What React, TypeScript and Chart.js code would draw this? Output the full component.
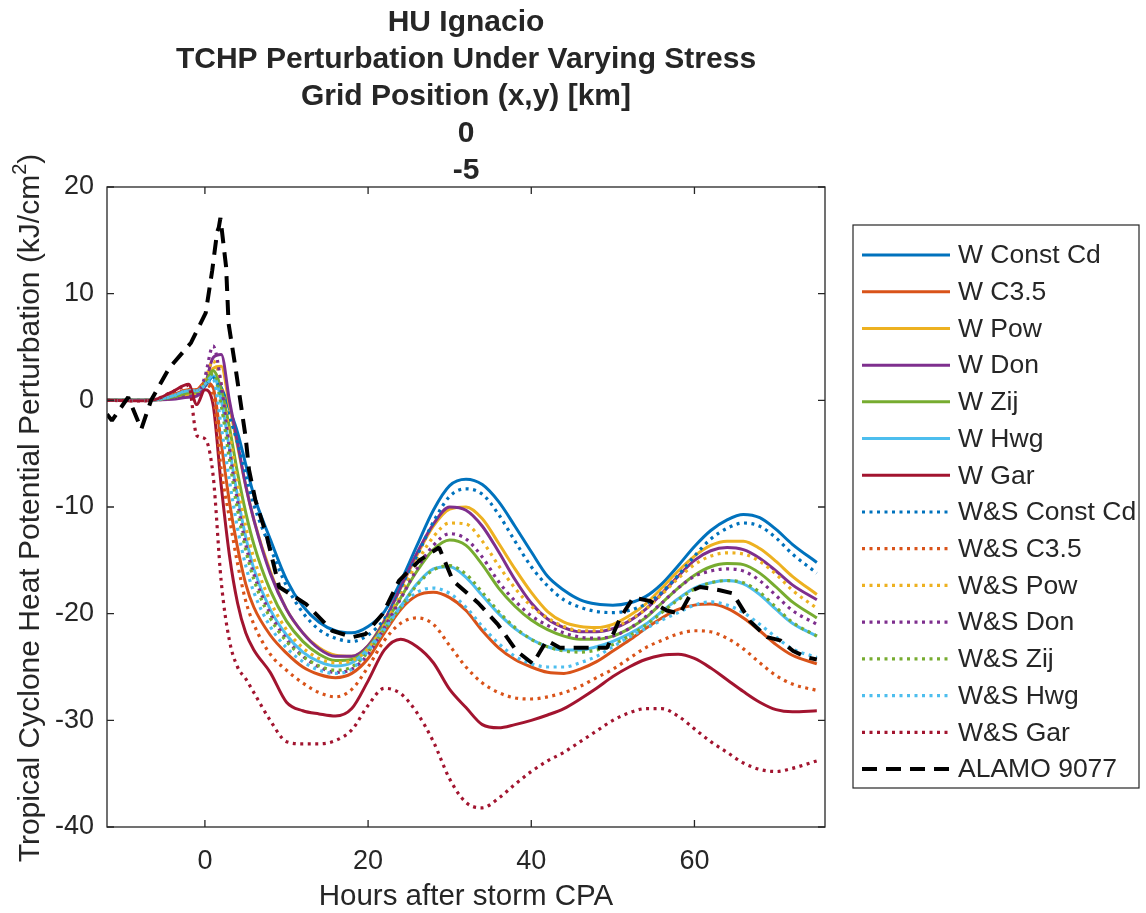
import React, { useEffect, useRef } from "react";
import { Chart, registerables } from "chart.js";
Chart.register(...registerables);

// ---------- data ----------
const X_HOURS = [-12, -8, -6, -4, -2, -1, 0, 1, 2, 3, 4, 5, 6, 8, 10, 12, 14, 16, 18, 20, 22, 24, 26, 28, 30, 32, 34, 36, 38, 40, 42, 44, 46, 48, 50, 52, 54, 56, 58, 60, 62, 64, 66, 68, 70, 72, 75];

const W_CONST_CD = [0, 0, 0.05, 0.3, 0.6, 0.7, 1.3, 2.2, 1.2, -0.8, -3.0, -6.0, -8.9, -13.0, -16.8, -19.3, -20.8, -21.6, -21.8, -21.2, -19.8, -17.0, -13.6, -10.3, -8.0, -7.4, -7.9, -9.5, -11.8, -14.2, -16.5, -17.8, -18.7, -19.1, -19.2, -19.0, -18.4, -17.2, -15.5, -13.7, -12.2, -11.2, -10.7, -11.0, -12.1, -13.5, -15.2];
const W_C35 = [0, 0, 0.05, 0.5, 1.0, 1.0, 1.7, 1.2, -4.0, -9.5, -13.8, -17.2, -19.4, -22.0, -23.7, -25.0, -25.7, -26.0, -25.6, -24.2, -21.8, -19.6, -18.3, -18.0, -18.5, -19.7, -21.6, -23.2, -24.3, -25.0, -25.5, -25.6, -25.2, -24.5, -23.5, -22.5, -21.4, -20.4, -19.6, -19.2, -19.1, -19.5, -20.4, -21.6, -22.9, -23.9, -24.7];
const W_POW = [0, 0, 0.05, 0.2, 0.5, 0.6, 1.6, 3.0, 3.2, -0.5, -4.3, -8.0, -11.2, -16.0, -19.6, -21.8, -23.2, -23.9, -24.0, -23.0, -20.6, -17.6, -14.5, -11.8, -10.2, -10.0, -11.1, -13.4, -15.8, -18.0, -19.8, -20.8, -21.2, -21.3, -21.0, -20.2, -19.1, -17.6, -16.0, -14.6, -13.6, -13.2, -13.2, -13.9, -15.1, -16.5, -18.2];
const W_DON = [0, 0, 0.05, 0.1, 0.3, 0.4, 1.4, 4.0, 4.3, 0.0, -4.0, -8.0, -11.2, -16.2, -19.6, -21.8, -23.3, -24.0, -24.0, -23.0, -20.7, -17.5, -14.3, -11.6, -10.0, -10.3, -11.8, -14.2, -16.8, -19.0, -20.5, -21.3, -21.7, -21.7, -21.4, -20.7, -19.6, -18.1, -16.5, -15.0, -14.1, -13.8, -14.0, -14.8, -16.0, -17.3, -18.7];
const W_ZIJ = [0, 0, 0.05, 0.3, 0.7, 0.8, 1.6, 2.8, 1.0, -2.5, -6.8, -10.5, -13.5, -17.8, -20.7, -22.6, -23.8, -24.4, -24.3, -23.2, -21.0, -18.5, -16.0, -14.0, -13.1, -13.6, -15.4, -17.6, -19.3, -20.6, -21.5, -22.1, -22.4, -22.4, -22.1, -21.4, -20.4, -19.0, -17.6, -16.4, -15.6, -15.3, -15.4, -16.2, -17.5, -18.9, -20.4];
const W_HWG = [0, 0, 0.05, 0.4, 0.9, 0.9, 1.5, 2.3, 0.0, -4.5, -9.0, -12.8, -15.8, -19.6, -22.0, -23.6, -24.5, -24.9, -24.6, -23.3, -21.3, -19.3, -17.2, -15.8, -15.6, -16.6, -18.3, -20.0, -21.4, -22.4, -23.1, -23.4, -23.4, -23.1, -22.6, -21.9, -21.0, -19.8, -18.6, -17.6, -17.1, -16.9, -17.2, -18.2, -19.6, -20.9, -22.1];
const W_GAR = [0, -0.05, 0.1, 0.8, 1.5, -0.4, 1.0, -0.4, -8.0, -14.5, -19.0, -21.8, -23.4, -25.5, -28.3, -29.1, -29.4, -29.6, -28.9, -26.3, -23.4, -22.4, -23.1, -24.6, -27.1, -28.8, -30.4, -30.7, -30.4, -30.0, -29.5, -28.9, -28.0, -27.0, -25.9, -25.0, -24.3, -23.9, -23.8, -24.2, -25.1, -26.2, -27.3, -28.3, -29.0, -29.2, -29.1];
const WS_CONST_CD = [0, 0, 0.05, 0.3, 0.6, 0.7, 1.4, 2.1, 0.8, -1.5, -4.0, -7.0, -9.8, -13.8, -17.4, -19.9, -21.5, -22.3, -22.6, -22.0, -20.5, -17.9, -14.6, -11.4, -9.0, -8.3, -8.8, -10.7, -13.2, -15.6, -17.4, -18.7, -19.4, -19.8, -19.9, -19.7, -19.1, -18.0, -16.4, -14.6, -13.0, -12.0, -11.5, -11.8, -12.9, -14.4, -16.2];
const WS_C35 = [0, 0, 0.05, 0.5, 1.0, 1.0, 1.5, 0.5, -6.5, -11.0, -15.3, -18.8, -21.0, -23.8, -25.3, -26.5, -27.4, -27.8, -27.1, -25.0, -22.5, -20.9, -20.4, -21.0, -23.0, -25.0, -26.5, -27.4, -27.9, -28.0, -27.8, -27.4, -26.8, -26.0, -25.2, -24.2, -23.2, -22.5, -21.9, -21.6, -21.7, -22.3, -23.3, -24.6, -25.8, -26.6, -27.2];
const WS_POW = [0, 0, 0.05, 0.2, 0.6, 0.7, 1.9, 3.7, 1.5, -3.0, -7.8, -11.8, -14.8, -18.8, -21.5, -23.2, -24.2, -24.6, -24.4, -23.3, -21.0, -18.2, -15.2, -12.8, -11.5, -11.6, -13.2, -15.5, -17.6, -19.3, -20.4, -21.2, -21.6, -21.6, -21.3, -20.6, -19.6, -18.2, -16.7, -15.4, -14.6, -14.3, -14.4, -15.1, -16.3, -17.8, -19.5];
const WS_DON = [0, 0, 0.05, 0.15, 0.4, 0.5, 2.2, 5.1, 1.5, -4.5, -9.5, -13.5, -16.3, -20.0, -22.4, -24.0, -25.0, -25.5, -25.2, -23.8, -21.3, -18.6, -15.8, -13.6, -12.5, -13.0, -14.7, -17.0, -18.8, -20.2, -21.1, -21.8, -22.2, -22.3, -22.1, -21.4, -20.3, -19.0, -17.6, -16.5, -16.0, -15.8, -16.0, -16.9, -18.3, -19.7, -21.0];
const WS_ZIJ = [0, 0, 0.05, 0.3, 0.7, 0.8, 1.5, 2.5, -0.5, -5.5, -10.3, -14.0, -16.8, -20.4, -22.6, -24.0, -24.9, -25.3, -25.0, -23.6, -21.5, -19.4, -17.3, -15.9, -15.5, -16.3, -18.0, -19.8, -21.3, -22.4, -23.1, -23.5, -23.6, -23.4, -22.9, -22.1, -21.1, -19.9, -18.7, -17.7, -17.1, -16.9, -17.1, -18.0, -19.4, -20.8, -22.1];
const WS_HWG = [0, 0, 0.05, 0.4, 0.9, 0.9, 1.4, 2.0, -2.5, -7.5, -12.0, -15.5, -18.0, -21.2, -23.2, -24.5, -25.3, -25.6, -25.2, -23.5, -21.5, -19.4, -18.0, -17.6, -18.1, -19.4, -21.2, -22.8, -24.0, -24.7, -25.0, -25.0, -24.6, -24.0, -23.1, -22.2, -21.4, -20.6, -19.9, -19.2, -18.9, -19.2, -19.9, -21.0, -22.2, -23.3, -24.1];
const WS_GAR = [0, -0.05, 0.1, 0.8, 1.4, -3.3, -3.6, -7.0, -17.0, -22.5, -25.0, -26.1, -27.4, -30.0, -32.0, -32.2, -32.2, -31.9, -30.9, -28.6, -27.0, -27.5, -29.3, -32.0, -35.5, -37.7, -38.2, -37.3, -36.0, -34.8, -33.8, -33.0, -32.0, -31.0, -30.0, -29.3, -28.9, -28.9, -29.6, -30.8, -32.0, -33.0, -34.0, -34.6, -34.8, -34.5, -33.8];

const ALAMO_X = [-12, -11.4, -9.4, -7.8, -6.6, -4.4, -1.7, 0.1, 0.9, 1.5, 1.7, 1.9, 2.6, 2.9, 3.8, 5.0, 5.4, 6.2, 7.5, 9.1, 12.4, 15.6, 18.1, 19.7, 21.8, 23.8, 26.3, 28.7, 30.4, 33.5, 35.9, 38.2, 40.2, 41.9, 43.5, 46.3, 49.3, 50.9, 52.5, 54.5, 56.6, 58.2, 59.8, 60.7, 63.1, 64.7, 66.8, 68.9, 70.5, 72.1, 73.8, 75];
const ALAMO_Y = [-1.3, -1.9, 0.3, -2.7, 0.0, 3.0, 5.4, 8.2, 12.2, 15.8, 16.2, 17.1, 12.5, 7.2, 2.8, -3.5, -6.5, -9.4, -12.5, -17.5, -19.1, -21.6, -22.2, -21.9, -20.0, -16.9, -15.0, -13.8, -16.9, -19.0, -21.0, -23.5, -24.7, -22.5, -23.2, -23.2, -23.2, -20.4, -18.5, -18.8, -19.7, -20.0, -17.8, -17.5, -17.8, -18.1, -20.7, -22.2, -22.5, -23.5, -24.1, -24.3];

const X_TICKS = [0, 20, 40, 60];
const Y_TICKS = [-40, -30, -20, -10, 0, 10, 20];
const TITLE_LINES = ["HU Ignacio", "TCHP Perturbation Under Varying Stress", "Grid Position (x,y) [km]", "0", "-5"];
const X_LABEL = "Hours after storm CPA";
const Y_LABEL_MAIN = "Tropical Cyclone Heat Potential Perturbation (kJ/cm";
const Y_LABEL_SUP = "2";
const Y_LABEL_END = ")";

const C_BLUE = "#0072BD";
const C_ORANGE = "#D95319";
const C_YELLOW = "#EDB120";
const C_PURPLE = "#7E2F8E";
const C_GREEN = "#77AC30";
const C_LIGHTBLUE = "#4DBEEE";
const C_RED = "#A2142F";
const TEXT = "#262626";
const FONT = '"Liberation Sans", Arial, sans-serif';

type Ser = { label: string; values: number[]; color: string; kind: "solid" | "dot" };
const SERIES: Ser[] = [
  { label: "W Const Cd", values: W_CONST_CD, color: C_BLUE, kind: "solid" },
  { label: "W C3.5", values: W_C35, color: C_ORANGE, kind: "solid" },
  { label: "W Pow", values: W_POW, color: C_YELLOW, kind: "solid" },
  { label: "W Don", values: W_DON, color: C_PURPLE, kind: "solid" },
  { label: "W Zij", values: W_ZIJ, color: C_GREEN, kind: "solid" },
  { label: "W Hwg", values: W_HWG, color: C_LIGHTBLUE, kind: "solid" },
  { label: "W Gar", values: W_GAR, color: C_RED, kind: "solid" },
  { label: "W&S Const Cd", values: WS_CONST_CD, color: C_BLUE, kind: "dot" },
  { label: "W&S C3.5", values: WS_C35, color: C_ORANGE, kind: "dot" },
  { label: "W&S Pow", values: WS_POW, color: C_YELLOW, kind: "dot" },
  { label: "W&S Don", values: WS_DON, color: C_PURPLE, kind: "dot" },
  { label: "W&S Zij", values: WS_ZIJ, color: C_GREEN, kind: "dot" },
  { label: "W&S Hwg", values: WS_HWG, color: C_LIGHTBLUE, kind: "dot" },
  { label: "W&S Gar", values: WS_GAR, color: C_RED, kind: "dot" },
];

const DOT_DASH = [3, 4.5];
const ALAMO_DASH = [15, 9];

const decorPlugin = {
  id: "matlabDecor",
  afterDraw(chart: any) {
    const ctx = chart.ctx as CanvasRenderingContext2D;
    const { left, right, top, bottom } = chart.chartArea;
    const xs = chart.scales.x;
    const ys = chart.scales.y;
    ctx.save();
    // box
    ctx.strokeStyle = TEXT;
    ctx.lineWidth = 1.3;
    ctx.setLineDash([]);
    ctx.strokeRect(left, top, right - left, bottom - top);
    // inward ticks
    const tl = 7;
    ctx.beginPath();
    X_TICKS.forEach((v) => {
      const p = xs.getPixelForValue(v);
      ctx.moveTo(p, bottom);
      ctx.lineTo(p, bottom - tl);
      ctx.moveTo(p, top);
      ctx.lineTo(p, top + tl);
    });
    Y_TICKS.forEach((v) => {
      const p = ys.getPixelForValue(v);
      ctx.moveTo(left, p);
      ctx.lineTo(left + tl, p);
      ctx.moveTo(right, p);
      ctx.lineTo(right - tl, p);
    });
    ctx.stroke();

    // title
    const cx = (left + right) / 2;
    ctx.fillStyle = TEXT;
    ctx.textAlign = "center";
    ctx.textBaseline = "alphabetic";
    ctx.font = `bold 30px ${FONT}`;
    TITLE_LINES.forEach((t, i) => {
      ctx.fillText(t, cx, 31 + i * 37);
    });

    // x label
    ctx.font = `29.5px ${FONT}`;
    ctx.fillText(X_LABEL, cx, 905);

    // y label rotated with superscript
    ctx.save();
    ctx.translate(39, 508);
    ctx.rotate(-Math.PI / 2);
    ctx.textAlign = "left";
    ctx.font = `30px ${FONT}`;
    const w1 = ctx.measureText(Y_LABEL_MAIN).width;
    const w3 = ctx.measureText(Y_LABEL_END).width;
    ctx.font = `20px ${FONT}`;
    const w2 = ctx.measureText(Y_LABEL_SUP).width;
    let px = -(w1 + w2 + w3) / 2;
    ctx.font = `30px ${FONT}`;
    ctx.fillText(Y_LABEL_MAIN, px, 0);
    px += w1;
    ctx.font = `20px ${FONT}`;
    ctx.fillText(Y_LABEL_SUP, px, -13);
    px += w2;
    ctx.font = `30px ${FONT}`;
    ctx.fillText(Y_LABEL_END, px, 0);
    ctx.restore();

    // legend
    const lx0 = 853, ly0 = 225, lx1 = 1139, ly1 = 788;
    ctx.fillStyle = "#ffffff";
    ctx.fillRect(lx0, ly0, lx1 - lx0, ly1 - ly0);
    ctx.strokeStyle = TEXT;
    ctx.lineWidth = 1.2;
    ctx.setLineDash([]);
    ctx.strokeRect(lx0, ly0, lx1 - lx0, ly1 - ly0);
    const dsets = chart.data.datasets;
    const rowH = (769 - 255) / (dsets.length - 1);
    ctx.textAlign = "left";
    ctx.textBaseline = "middle";
    ctx.font = `26.5px ${FONT}`;
    dsets.forEach((ds: any, i: number) => {
      const y = 255 + i * rowH;
      ctx.strokeStyle = ds.borderColor;
      ctx.lineWidth = ds.borderWidth;
      ctx.setLineDash(ds.borderDash || []);
      ctx.beginPath();
      ctx.moveTo(862, y);
      ctx.lineTo(950, y);
      ctx.stroke();
      ctx.setLineDash([]);
      ctx.fillStyle = TEXT;
      ctx.fillText(ds.label, 958, y + 1);
    });
    ctx.restore();
  },
};

export default function App() {
  const ref = useRef<HTMLCanvasElement | null>(null);
  useEffect(() => {
    if (!ref.current) return;
    const n = SERIES.length + 1;
    const datasets: any[] = SERIES.map((s, i) => ({
      label: s.label,
      data: X_HOURS.map((x, k) => ({ x, y: s.values[k] })),
      borderColor: s.color,
      backgroundColor: s.color,
      borderWidth: s.kind === "solid" ? 3 : 3.2,
      borderDash: s.kind === "dot" ? DOT_DASH : [],
      pointRadius: 0,
      cubicInterpolationMode: "monotone",
      fill: false,
      order: n - i,
    }));
    datasets.push({
      label: "ALAMO 9077",
      data: ALAMO_X.map((x, k) => ({ x, y: ALAMO_Y[k] })),
      borderColor: "#000000",
      backgroundColor: "#000000",
      borderWidth: 4,
      borderDash: ALAMO_DASH,
      borderJoinStyle: "bevel",
      pointRadius: 0,
      tension: 0,
      fill: false,
      order: 1,
    });
    const chart = new Chart(ref.current, {
      type: "line",
      data: { datasets },
      options: {
        animation: false,
        responsive: false,
        maintainAspectRatio: false,
        layout: { padding: { top: 187, right: 321, bottom: 0, left: 0 } },
        plugins: {
          legend: { display: false },
          title: { display: false },
          tooltip: { enabled: false },
        },
        scales: {
          x: {
            type: "linear",
            min: -12,
            max: 76,
            grid: { display: false, drawTicks: false },
            border: { display: false },
            afterBuildTicks: (s: any) => {
              s.ticks = X_TICKS.map((v) => ({ value: v }));
            },
            afterFit: (s: any) => {
              s.height = 86;
            },
            ticks: {
              color: TEXT,
              font: { family: FONT, size: 27 },
              padding: 18,
              maxRotation: 0,
              callback: (v: any) => String(v),
            },
          },
          y: {
            type: "linear",
            min: -40,
            max: 20,
            grid: { display: false, drawTicks: false },
            border: { display: false },
            afterBuildTicks: (s: any) => {
              s.ticks = Y_TICKS.map((v) => ({ value: v }));
            },
            afterFit: (s: any) => {
              s.width = 107;
            },
            ticks: {
              color: TEXT,
              font: { family: FONT, size: 27 },
              padding: 13,
              callback: (v: any) => String(v),
            },
          },
        },
      },
      plugins: [decorPlugin],
    });
    return () => chart.destroy();
  }, []);
  return (
    <div style={{ position: "absolute", left: 0, top: 0, width: 1146, height: 913, background: "#fff" }}>
      <canvas ref={ref} width={1146} height={913} style={{ display: "block" }} />
    </div>
  );
}
